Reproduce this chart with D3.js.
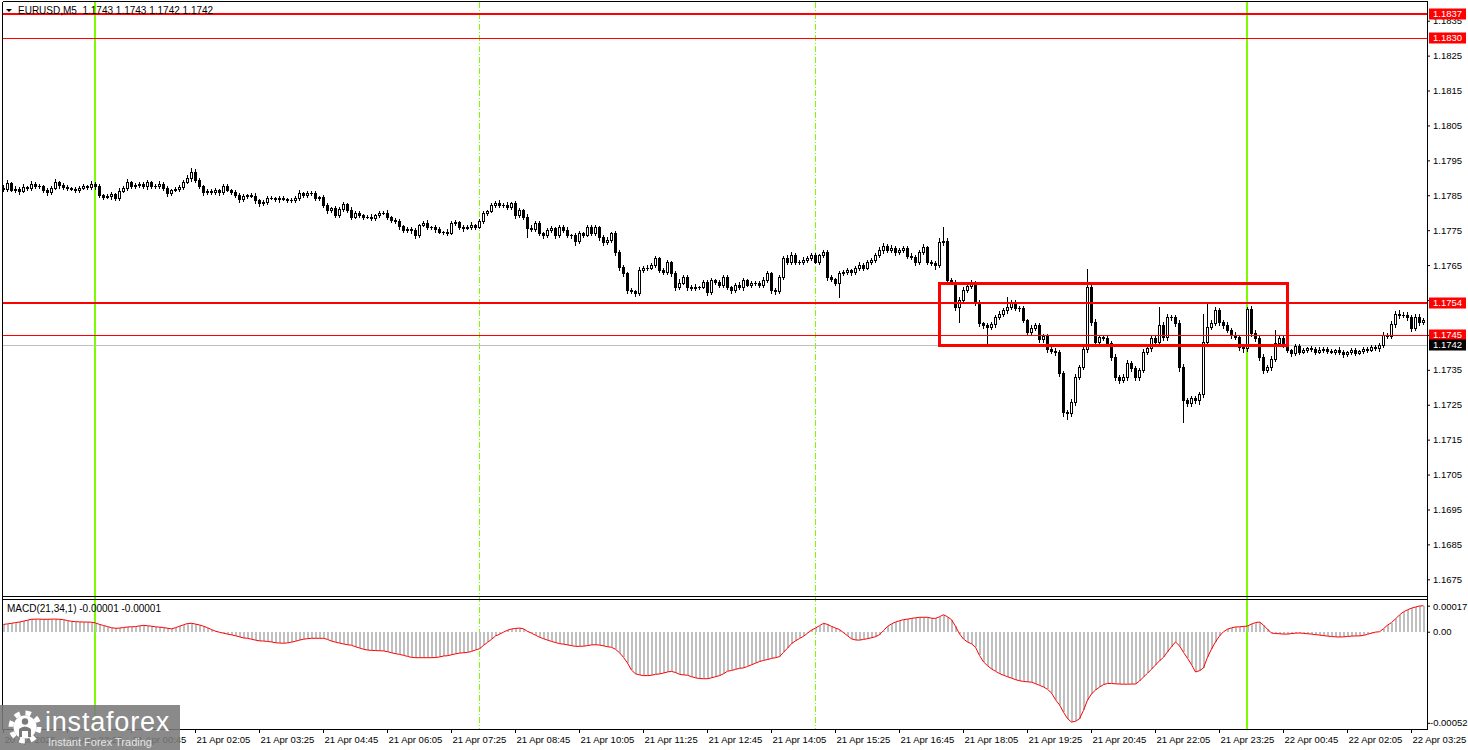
<!DOCTYPE html>
<html>
<head>
<meta charset="utf-8">
<script src="https://cdn.jsdelivr.net/npm/d3@7"></script>
<style>
  body { margin: 0; background: #fff; }
  svg { display: block; font-family: "Liberation Sans", Arial, sans-serif; }
</style>
</head>
<body>
<svg id="chart" width="1468" height="750"></svg>
<script>
// EURUSD M5, prices kept as pips above 1.1700
var BASE = 1.17, PIP = 0.0001;
var startTime = "2025-04-20 22:05";
var firstOpen = 87.2;

var closes = [
  86.8,88.5,86.5,86.8,86.2,87.4,87.1,88.2,87.7,87.6,86.5,85.9,87.1,88.8,87.9,87.4,87.1,86.8,86.5,87.1,
  87.6,87.4,88.2,87.6,85.1,84.5,84.8,85.4,84.2,86.2,87.1,88.8,87.6,87.9,88.2,87.6,88.8,87.6,87.6,88.2,
  87.1,85.6,86.5,86.8,87.4,88.8,89.9,91.7,89.4,87.6,85.9,86.2,85.9,86.5,85.9,87.6,86.5,85.9,85.1,83.9,
  84.8,85.1,84.8,83.6,82.8,83.1,84.2,84.2,83.9,84.2,83.9,83.6,83.6,84.2,85.6,85.1,85.6,85.6,84.2,84.5,
  82.2,80.8,81.3,79.3,81.1,82.5,80.8,78.8,79.9,79.3,78.8,78.8,78.5,79.3,79.9,79.9,78.8,77.9,77.6,76.2,
  75.0,75.3,75.0,73.6,76.5,77.1,75.9,75.9,75.3,74.5,74.5,74.2,77.0,77.3,75.9,75.6,75.9,76.5,75.9,77.6,
  79.9,80.5,82.2,82.8,82.2,82.2,81.6,82.8,79.3,80.8,78.8,75.6,75.3,77.0,74.2,73.6,75.0,75.6,73.6,75.9,
  75.0,73.6,73.6,72.0,74.2,73.6,75.9,74.2,75.9,73.0,71.6,72.2,74.2,68.7,64.4,62.7,57.9,57.5,57.0,63.6,
  64.2,64.2,65.0,67.0,63.6,63.0,65.9,62.7,58.7,60.0,61.6,58.7,58.4,58.7,58.7,60.2,57.3,60.7,60.2,59.3,
  61.6,58.7,57.9,59.3,58.7,60.7,59.3,59.8,59.8,59.3,60.7,62.7,57.9,57.5,61.6,67.0,65.9,67.9,65.9,65.9,
  66.5,67.0,67.9,65.9,67.9,68.7,61.6,61.0,60.0,62.7,63.0,63.6,63.0,64.2,65.0,64.2,65.9,66.5,67.9,69.3,
  70.5,69.3,69.9,68.7,69.3,69.9,67.6,67.3,65.9,68.7,70.2,65.9,65.6,65.0,71.6,71.9,60.7,60.2,53.0,55.0,
  57.9,59.0,59.8,54.4,48.4,47.8,47.2,48.1,50.1,51.0,52.1,53.0,54.4,52.7,52.7,49.3,45.8,47.0,47.8,43.8,
  44.7,40.9,40.5,40.1,34.1,22.9,22.6,25.8,33.0,35.8,40.9,58.7,48.7,43.0,44.4,44.1,42.7,38.7,33.0,32.1,
  33.0,37.0,35.5,33.0,35.0,40.1,41.2,44.1,43.0,47.8,44.4,50.1,50.1,48.4,35.8,26.3,25.5,26.8,26.3,28.0,
  43.0,47.3,48.4,52.1,48.7,47.8,46.4,45.0,44.4,41.5,41.2,52.4,45.5,44.1,38.7,35.0,35.8,38.1,42.7,44.1,
  42.1,40.7,39.8,41.8,40.1,40.7,41.2,41.0,40.1,40.7,41.0,40.4,40.1,40.7,40.1,39.5,40.1,40.7,39.8,40.4,
  41.0,40.7,41.5,41.2,42.1,44.9,44.7,48.1,51.0,50.7,50.7,50.1,47.0,50.1,48.7,49.3
];

// wick lengths beyond the body, pips
var wickHi = [
  0.6,1.0,0.4,0.8,0.5,0.7,0.3,0.9,0.5,0.6,0.4,0.7,0.5,0.8,0.3,0.6,0.5,0.4,0.7,0.5,
  0.6,0.4,0.8,0.5,0.7,0.4,0.5,0.6,0.3,0.8,0.5,0.9,0.4,0.6,0.5,0.7,0.6,0.4,0.5,0.8,
  0.5,0.6,0.4,0.7,0.5,0.6,0.8,1.1,0.9,0.5,0.4,0.6,0.5,0.7,0.4,0.6,0.5,0.4,0.7,0.5,
  0.6,0.4,0.5,0.8,0.4,0.6,0.5,0.7,0.4,0.6,0.5,0.4,0.6,0.5,0.8,0.4,0.6,0.5,0.7,0.4,
  0.6,0.5,0.4,0.7,0.6,0.5,0.4,0.8,0.5,0.6,0.4,0.5,0.7,0.4,0.6,0.5,0.8,0.4,0.6,0.5,
  0.4,0.7,0.5,0.6,0.4,0.5,0.8,0.4,0.6,0.5,0.4,0.7,0.5,0.6,0.4,0.5,0.6,0.8,0.4,0.5,
  0.6,0.4,0.7,0.6,0.8,0.5,0.9,0.4,0.6,0.5,0.4,0.7,0.8,0.5,0.6,0.4,0.5,0.7,0.4,0.6,
  0.5,0.8,0.4,0.6,0.5,0.4,0.7,0.5,0.6,0.4,0.5,0.8,0.4,0.6,0.5,0.7,0.4,0.6,0.5,0.8,
  0.6,0.9,0.5,0.7,0.4,0.6,0.5,0.4,0.6,1.0,0.5,0.7,0.6,0.8,0.4,0.6,0.5,0.7,0.4,0.6,
  0.5,0.7,0.4,0.6,0.9,0.5,0.4,0.6,0.5,0.7,0.8,0.5,0.4,0.6,0.5,0.7,0.9,0.8,0.5,0.6,
  0.7,0.6,0.5,0.6,0.4,0.6,0.5,0.7,0.4,0.6,0.5,0.7,0.4,0.6,0.8,0.5,0.6,0.4,0.7,1.0,
  0.8,0.6,0.9,0.5,0.7,0.6,0.5,0.8,0.6,0.5,0.9,0.4,0.6,0.5,1.2,4.0,0.8,0.6,0.5,0.9,
  0.7,0.6,0.8,0.5,0.6,0.4,0.5,0.7,0.6,0.8,0.5,2.9,0.7,0.6,0.5,0.6,0.4,0.8,0.6,0.5,
  0.7,0.6,0.5,0.8,0.7,0.6,0.5,0.9,0.8,0.7,0.6,5.2,0.9,0.8,0.7,0.6,0.8,0.5,0.7,0.6,
  0.8,0.7,0.6,0.7,0.5,0.9,0.6,0.7,0.8,5.2,0.9,0.8,0.7,0.6,0.9,0.8,0.7,0.6,0.8,0.7,
  8.0,6.5,0.9,0.8,0.7,0.6,0.8,0.5,0.7,0.6,0.5,0.6,0.9,0.8,0.6,0.7,0.5,0.8,3.7,0.7,
  0.5,0.6,0.4,0.7,0.5,0.6,0.4,0.5,0.6,0.7,0.4,0.5,0.6,0.4,0.7,0.5,0.4,0.6,0.5,0.4,
  0.6,0.5,0.7,0.5,0.6,0.8,0.7,0.9,0.8,1.1,1.0,0.9,0.7,0.8,0.9,0.6
];
var wickLo = [
  0.5,0.7,0.4,0.6,0.8,0.4,0.6,0.5,0.7,0.4,0.6,0.8,0.5,0.4,0.7,0.5,0.6,0.4,0.5,0.7,
  0.4,0.6,0.5,0.7,0.6,0.5,0.4,0.8,0.6,0.5,0.4,0.7,0.5,0.6,0.4,0.5,0.7,0.6,0.4,0.5,
  0.6,0.8,0.5,0.4,0.6,0.5,0.4,0.7,0.5,0.6,0.8,0.5,0.4,0.6,0.7,0.5,0.4,0.6,0.5,0.7,
  0.5,0.6,0.4,0.7,0.8,0.5,0.6,0.4,0.5,0.7,0.4,0.6,0.5,0.4,0.6,0.5,0.7,0.4,0.6,0.5,
  0.7,0.9,0.5,0.6,0.4,0.5,0.7,0.6,0.4,0.5,0.6,0.4,0.7,0.5,0.6,0.4,0.5,0.7,0.6,0.8,
  0.6,0.5,0.7,0.9,0.5,0.4,0.6,0.5,0.7,0.4,0.6,0.5,0.4,0.6,0.5,0.7,0.4,0.6,0.5,0.4,
  0.5,0.6,0.4,0.5,0.7,0.6,0.4,0.5,0.8,0.6,0.7,2.6,0.6,0.5,0.7,0.8,0.5,0.6,0.7,0.5,
  0.6,0.5,0.7,1.2,0.6,0.5,0.4,0.6,0.5,0.7,0.8,0.6,0.5,0.7,0.9,0.8,1.0,0.5,0.9,0.6,
  0.5,0.6,0.4,0.5,0.7,0.6,0.5,0.8,0.9,0.6,0.5,0.7,0.6,0.5,0.6,0.4,0.8,0.6,0.5,0.7,
  0.6,0.5,0.8,0.6,0.5,0.7,0.4,0.6,0.5,0.7,0.6,0.5,0.8,0.9,0.6,0.5,0.7,0.6,0.5,0.6,
  0.5,0.7,0.6,0.4,0.6,0.5,0.8,0.6,0.7,4.1,0.6,0.5,0.7,0.6,0.5,0.6,0.4,0.7,0.5,0.6,
  0.7,0.5,0.6,0.8,0.6,0.5,0.7,0.6,0.8,0.5,0.6,0.7,0.5,1.2,0.6,0.8,0.7,0.6,1.0,4.3,
  0.8,0.6,0.7,0.9,0.8,0.7,5.1,0.6,0.7,0.5,0.6,0.8,0.7,0.6,0.9,0.7,0.8,0.6,0.7,0.9,
  0.7,0.8,0.6,0.9,1.0,1.2,1.7,0.9,0.8,0.7,0.6,0.8,0.9,1.0,0.8,0.7,0.9,0.8,1.0,0.9,
  0.7,0.8,0.9,1.0,0.8,0.7,0.6,0.8,0.9,0.7,0.8,0.9,0.7,0.8,1.0,6.3,0.9,0.8,0.7,1.0,
  0.9,0.8,0.7,0.6,0.8,0.7,0.6,0.8,0.7,0.9,1.1,0.8,0.7,0.9,0.8,1.0,0.7,0.8,0.6,0.7,
  0.6,0.5,0.7,0.6,0.5,0.4,0.6,0.5,0.7,0.4,0.6,0.5,0.4,0.6,0.5,0.7,0.4,0.6,0.5,0.4,
  0.5,0.6,0.4,0.5,0.7,0.6,0.5,0.7,0.8,0.9,0.7,0.8,0.9,0.7,0.8,0.6
];

// MACD(21,34,1) in units of 0.00001
var macd = [
  4.0,4.3,4.6,5.0,5.3,5.8,6.3,6.8,6.9,6.9,6.8,6.8,6.9,6.9,6.8,6.6,6.1,5.7,5.5,5.4,
  5.3,5.3,5.2,4.8,4.0,3.4,2.8,2.2,1.9,2.0,2.3,2.6,2.7,2.8,3.2,3.5,3.3,3.0,2.7,2.5,
  2.3,1.9,1.6,2.2,3.0,3.8,4.5,4.6,4.2,3.7,3.0,2.2,1.2,0.3,-0.3,-0.8,-1.3,-1.7,-2.2,-2.8,
  -3.4,-3.6,-4.1,-4.6,-5.0,-5.1,-5.3,-5.6,-6.0,-6.2,-6.3,-6.1,-5.7,-5.2,-4.6,-4.1,-3.8,-3.6,-3.6,-3.6,
  -3.6,-4.2,-5.1,-5.7,-6.2,-6.7,-7.1,-7.4,-8.2,-8.9,-9.6,-10.0,-10.2,-10.3,-10.4,-10.5,-10.9,-11.5,-12.0,-12.4,
  -12.9,-13.5,-14.0,-14.2,-14.2,-14.2,-14.2,-14.2,-14.1,-13.8,-13.3,-13.1,-12.6,-12.1,-11.7,-11.5,-11.3,-10.8,-10.0,-9.3,
  -7.5,-5.8,-4.2,-2.3,-1.4,-0.2,0.8,1.5,1.8,2.0,1.6,0.2,-0.8,-1.9,-3.0,-3.8,-4.6,-5.3,-5.9,-6.5,
  -6.8,-7.2,-7.6,-8.0,-8.0,-7.9,-7.6,-7.2,-7.1,-7.3,-7.7,-8.2,-8.5,-9.6,-11.5,-14.0,-17.1,-21.0,-23.0,-23.6,
  -24.0,-24.0,-23.8,-23.3,-23.1,-22.6,-22.0,-21.7,-22.3,-23.3,-23.6,-23.8,-24.6,-25.2,-25.6,-25.7,-25.7,-25.2,-24.6,-24.0,
  -23.0,-21.6,-21.2,-20.6,-20.0,-19.8,-19.0,-18.1,-17.2,-16.3,-15.7,-15.2,-14.6,-14.2,-13.6,-11.3,-9.0,-6.5,-5.0,-3.7,
  -2.5,-0.8,0.9,2.0,3.3,4.6,4.0,2.9,2.0,1.2,-0.5,-2.2,-3.9,-4.5,-4.6,-4.2,-3.8,-3.3,-2.7,-1.6,
  0.6,2.9,4.3,5.3,6.0,6.6,6.9,7.3,7.6,7.9,7.9,7.9,7.4,7.3,8.2,9.3,8.2,6.6,3.0,-1.2,
  -4.0,-5.6,-6.6,-8.5,-13.0,-16.5,-18.6,-20.3,-21.6,-22.9,-23.8,-24.6,-25.4,-26.2,-26.8,-27.2,-27.4,-27.6,-28.4,-29.3,
  -30.2,-31.5,-33.5,-37.2,-40.0,-44.0,-47.5,-49.4,-49.0,-47.6,-43.0,-37.4,-34.0,-31.9,-30.3,-28.9,-28.3,-28.3,-28.5,-28.6,
  -28.7,-28.7,-28.6,-28.6,-27.0,-24.8,-22.7,-20.5,-18.2,-15.9,-14.0,-11.0,-8.2,-5.6,-7.7,-11.3,-14.5,-18.0,-22.0,-21.3,
  -19.8,-14.0,-9.5,-5.6,-2.3,0.0,1.4,2.1,2.6,2.7,2.9,3.1,4.2,5.0,5.3,3.6,1.3,-0.7,-1.0,-1.1,
  -1.3,-1.3,-1.0,-0.8,-0.7,-0.9,-1.1,-1.3,-1.6,-1.8,-2.1,-2.4,-2.6,-2.8,-2.9,-2.8,-2.6,-2.4,-2.3,-2.3,
  -2.0,-1.4,-0.8,-0.2,0.0,1.6,3.6,5.0,7.0,9.2,10.9,12.0,12.9,13.5,14.1,14.2
];

var yTicks = [1.1835,1.1825,1.1815,1.1805,1.1795,1.1785,1.1775,1.1765,1.1755,1.1745,1.1735,1.1725,1.1715,1.1705,1.1695,1.1685,1.1675];
var macdTicks = [0.00017, 0, -0.00052];
var xTicks = ["2025-04-20 22:05","2025-04-20 23:25","2025-04-21 00:45","2025-04-21 02:05","2025-04-21 03:25",
  "2025-04-21 04:45","2025-04-21 06:05","2025-04-21 07:25","2025-04-21 08:45","2025-04-21 10:05",
  "2025-04-21 11:25","2025-04-21 12:45","2025-04-21 14:05","2025-04-21 15:25","2025-04-21 16:45",
  "2025-04-21 18:05","2025-04-21 19:25","2025-04-21 20:45","2025-04-21 22:05","2025-04-21 23:25",
  "2025-04-22 00:45","2025-04-22 02:05","2025-04-22 03:25"];

var redLevels = [1.1837, 1.1830, 1.1754, 1.1745];
var bidLevel = 1.1742;
var zoneTimes = ["2025-04-21 17:35", "2025-04-22 00:50"];
var zonePrices = [1.1760, 1.1742];
var dayLines = ["2025-04-21 00:00", "2025-04-22 00:00"];
var sessionLines = ["2025-04-21 08:00", "2025-04-21 15:00"];
var headerValues = [1.1743, 1.1743, 1.1742, 1.1742];
var macdHeader = [-0.00001, -0.00001];

var svg = d3.select("#chart");
var paneL = 2.5, axisX = 1427.5, mainTop = 1.5, mainBot = 596.5, macdTop = 599.5, macdBot = 729.5;
var green = "#7cfc00", red = "#ff0000";
var FS = 9.5;

var parse = d3.timeParse("%Y-%m-%d %H:%M");
var t0 = parse(startTime);
var bars = closes.map(function(c, i) {
  var o = i === 0 ? firstOpen : closes[i - 1];
  return {
    t: d3.timeMinute.offset(t0, 5 * i),
    open: BASE + o * PIP,
    close: BASE + c * PIP,
    high: BASE + (Math.max(o, c) + wickHi[i]) * PIP,
    low: BASE + (Math.min(o, c) - wickLo[i]) * PIP,
    macd: macd[i] * 1e-5
  };
});

var x = d3.scaleTime().domain([bars[0].t, bars[bars.length - 1].t]).range([3, 1423]);
var y = d3.scaleLinear().domain([1.1675, 1.1835]).range([579.3, 20.7]);
var ym = d3.scaleLinear().domain([-0.000532, 0.000179]).range([729, 599]);
var px = function(t) { return Math.round(x(t)); };
var fmt4 = d3.format(".4f");
// MT4 prints a plain hyphen for negatives
var fmt5 = function(v) { return d3.format(".5f")(v).replace("\u2212", "-"); };

svg.append("rect").attr("width", 1468).attr("height", 750).attr("fill", "#fff");

var defs = svg.append("defs");
defs.append("clipPath").attr("id", "clipMain").append("rect")
  .attr("x", 3).attr("y", 2).attr("width", 1424).attr("height", 594);
defs.append("clipPath").attr("id", "clipMacd").append("rect")
  .attr("x", 3).attr("y", 600).attr("width", 1424).attr("height", 129);

// vertical separators (behind everything)
var vg = svg.append("g").attr("shape-rendering", "crispEdges");
vg.selectAll("line.sess").data(sessionLines).enter().append("line")
  .attr("x1", function(d) { return px(parse(d)) + 0.5; })
  .attr("x2", function(d) { return px(parse(d)) + 0.5; })
  .attr("y1", mainTop).attr("y2", macdBot)
  .attr("stroke", green).attr("stroke-width", 1).attr("stroke-dasharray", "6,2,1,2");
vg.selectAll("line.day").data(dayLines).enter().append("line")
  .attr("x1", function(d) { return px(parse(d)); })
  .attr("x2", function(d) { return px(parse(d)); })
  .attr("y1", mainTop).attr("y2", macdBot)
  .attr("stroke", green).attr("stroke-width", 2);

// main pane
var main = svg.append("g").attr("clip-path", "url(#clipMain)").attr("shape-rendering", "crispEdges");

main.append("line")
  .attr("x1", 3).attr("x2", axisX)
  .attr("y1", Math.round(y(bidLevel)) + 0.5).attr("y2", Math.round(y(bidLevel)) + 0.5)
  .attr("stroke", "#c0c0c0");

main.selectAll("line.wick").data(bars).enter().append("line")
  .attr("x1", function(d) { return px(d.t) + 0.5; })
  .attr("x2", function(d) { return px(d.t) + 0.5; })
  .attr("y1", function(d) { return Math.round(y(d.high)); })
  .attr("y2", function(d) { return Math.round(y(d.low)) + 1; })
  .attr("stroke", "#000");

function bodyTop(d) { return Math.round(y(Math.max(d.open, d.close))); }
function bodyH(d) { return Math.max(1, Math.round(y(Math.min(d.open, d.close))) - bodyTop(d) + 1); }

main.selectAll("rect.body").data(bars).enter().append("rect")
  .attr("x", function(d) { return px(d.t) - 1; })
  .attr("y", bodyTop)
  .attr("width", 3)
  .attr("height", bodyH)
  .attr("fill", "#000");

main.selectAll("rect.hollow").data(bars.filter(function(d) { return d.close > d.open && bodyH(d) > 2; }))
  .enter().append("rect")
  .attr("x", function(d) { return px(d.t); })
  .attr("y", function(d) { return bodyTop(d) + 1; })
  .attr("width", 1)
  .attr("height", function(d) { return bodyH(d) - 2; })
  .attr("fill", "#fff");

// horizontal levels and the range box
var levelWidths = [2, 1, 2, 1];
main.selectAll("line.level").data(redLevels).enter().append("line")
  .attr("x1", 3).attr("x2", axisX)
  .attr("y1", function(d) { return Math.round(y(d)); })
  .attr("y2", function(d) { return Math.round(y(d)); })
  .attr("stroke", red)
  .attr("stroke-width", function(d, i) { return levelWidths[i]; });

main.append("rect")
  .attr("x", px(parse(zoneTimes[0])))
  .attr("y", Math.round(y(zonePrices[0])))
  .attr("width", px(parse(zoneTimes[1])) - px(parse(zoneTimes[0])))
  .attr("height", Math.round(y(zonePrices[1])) - Math.round(y(zonePrices[0])))
  .attr("fill", "none").attr("stroke", red).attr("stroke-width", 3);

// MACD pane
var mg = svg.append("g").attr("clip-path", "url(#clipMacd)");
mg.selectAll("rect.hist").data(bars).enter().append("rect")
  .attr("shape-rendering", "crispEdges")
  .attr("x", function(d) { return px(d.t) - 0.5; })
  .attr("width", 2)
  .attr("y", function(d) { return Math.min(ym(0), ym(d.macd)); })
  .attr("height", function(d) { return Math.abs(ym(d.macd) - ym(0)); })
  .attr("fill", "#c0c0c0");
mg.append("path").datum(bars)
  .attr("d", d3.line().x(function(d) { return px(d.t) + 0.5; }).y(function(d) { return ym(d.macd); }))
  .attr("fill", "none").attr("stroke", red).attr("stroke-width", 1);

// frames
var fr = svg.append("g").attr("stroke", "#000").attr("shape-rendering", "crispEdges");
fr.append("line").attr("x1", paneL).attr("x2", axisX).attr("y1", mainTop).attr("y2", mainTop);
fr.append("line").attr("x1", paneL).attr("x2", axisX).attr("y1", mainBot).attr("y2", mainBot);
fr.append("line").attr("x1", paneL).attr("x2", axisX).attr("y1", macdTop).attr("y2", macdTop);
fr.append("line").attr("x1", paneL).attr("x2", axisX).attr("y1", macdBot).attr("y2", macdBot);
fr.append("line").attr("x1", paneL).attr("x2", paneL).attr("y1", mainTop).attr("y2", macdBot);
fr.append("line").attr("x1", axisX).attr("x2", axisX).attr("y1", mainTop).attr("y2", macdBot);

// price axis
var yAxis = svg.append("g").attr("transform", "translate(1427,0)")
  .call(d3.axisRight(y).tickValues(yTicks).tickSize(3).tickFormat(fmt4));
yAxis.select(".domain").remove();
yAxis.selectAll("text").attr("font-size", FS).attr("font-family", "Liberation Sans, Arial, sans-serif").attr("fill", "#000");

// macd axis
var mAxis = svg.append("g").attr("transform", "translate(1427,0)")
  .call(d3.axisRight(ym).tickValues(macdTicks).tickSize(3)
    .tickFormat(function(d) { return d === 0 ? "0.00" : fmt5(d); }));
mAxis.select(".domain").remove();
mAxis.selectAll("text").attr("font-size", FS).attr("font-family", "Liberation Sans, Arial, sans-serif").attr("fill", "#000")
  .attr("x", function(d) { return d < 0 ? 3 : 6; })
  .attr("dy", function(d) { return d > 0 ? "0.95em" : (d < 0 ? "-0.1em" : "0.32em"); });
mAxis.selectAll("line").attr("transform", function(d) { return d > 0 ? "translate(0,5)" : (d < 0 ? "translate(0,-4)" : null); });

// time axis
var xAxis = svg.append("g").attr("transform", "translate(0,729)")
  .call(d3.axisBottom(x).tickValues(xTicks.map(parse)).tickSize(4)
    .tickFormat(function(d, i) { return i === 0 ? d3.timeFormat("%d %b %Y")(d) : d3.timeFormat("%d %b %H:%M")(d); }));
xAxis.select(".domain").remove();
xAxis.selectAll("text").attr("font-size", FS).attr("font-family", "Liberation Sans, Arial, sans-serif").attr("fill", "#000")
  .attr("text-anchor", "start").attr("x", 1);

// price tags on the axis
var tags = svg.append("g").attr("font-size", FS);
var tagData = redLevels.map(function(p) { return { p: p, bg: red }; }).concat([{ p: bidLevel, bg: "#000" }]);
tags.selectAll("rect").data(tagData).enter().append("rect")
  .attr("x", 1429).attr("width", 37).attr("height", 11)
  .attr("y", function(d) { return Math.round(y(d.p)) - 5.5; })
  .attr("fill", function(d) { return d.bg; });
tags.selectAll("text").data(tagData).enter().append("text")
  .attr("x", 1433).attr("y", function(d) { return Math.round(y(d.p)); })
  .attr("dy", "0.35em").attr("fill", "#fff")
  .text(function(d) { return fmt4(d.p); });

// titles
svg.append("path").attr("d", "M6,9L12,9L9,12Z").attr("fill", "#000");
svg.append("text").attr("x", 18).attr("y", 13.5).attr("font-size", 10)
  .style("white-space", "pre")
  .text("EURUSD,M5  " + headerValues.map(fmt4).join(" "));
svg.append("text").attr("x", 7).attr("y", 611.5).attr("font-size", 10)
  .text("MACD(21,34,1) " + macdHeader.map(fmt5).join(" "));

// watermark
var logo = svg.append("g");
logo.append("rect").attr("x", 0).attr("y", 705).attr("width", 180).attr("height", 45)
  .attr("fill", "#7a7a7a").attr("opacity", 0.88);
logo.append("circle").attr("cx", 25).attr("cy", 727).attr("r", 14)
  .attr("fill", "none").attr("stroke", "#fff").attr("stroke-width", 5).attr("stroke-dasharray", "5.5,5.5");
logo.append("circle").attr("cx", 25).attr("cy", 727).attr("r", 11.5).attr("fill", "#fff");
logo.append("circle").attr("cx", 25).attr("cy", 721.5).attr("r", 3.2).attr("fill", "#7a7a7a");
logo.append("path").attr("d", "M19,737L19,729Q25,724 31,729L31,737L28,737L28,731L22,731L22,737Z").attr("fill", "#7a7a7a");
logo.append("text").attr("x", 45).attr("y", 731).attr("font-size", 27).attr("fill", "#fff")
  .attr("letter-spacing", 0.8).text("instaforex");
logo.append("text").attr("x", 48).attr("y", 746).attr("font-size", 11).attr("fill", "#e6e6e6")
  .text("Instant Forex Trading");
</script>
</body>
</html>
